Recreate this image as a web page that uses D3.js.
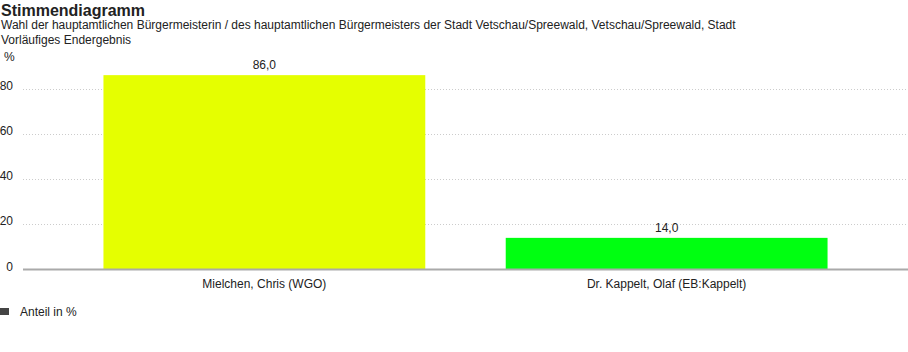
<!DOCTYPE html>
<html lang="de">
<head>
    <meta charset="UTF-8">
    <title>Stimmendiagramm</title>
    <script src="https://d3js.org/d3.v7.min.js"></script>
    <style>
        body { margin: 0; background: #fff; }
        svg text { font-family: "Liberation Sans", Arial, sans-serif; fill: #222; }
        .title { font-size: 16px; font-weight: bold; }
        .sub { font-size: 12px; }
        .tick-label { font-size: 12px; }
        .grid line { stroke: #ccc; stroke-dasharray: 1,2; }
    </style>
</head>
<body>
    <svg width="908" height="352"></svg>
    <script>
        const candidates = ["Mielchen, Chris (WGO)", "Dr. Kappelt, Olaf (EB:Kappelt)"];
        const shares = [86.0, 14.0];
        const barColors = ["#e5ff00", "#00ff11"];
        const yTicks = [0, 20, 40, 60, 80];

        const width = 908, height = 352;
        const svg = d3.select("svg");

        const x = d3.scaleBand()
            .domain(candidates)
            .range([23, 908])
            .paddingInner(0.2)
            .paddingOuter(0.2);

        const y = d3.scaleLinear()
            .domain([0, 100])
            .range([269.5, 43.5]);

        // Title block
        svg.append("text").attr("class", "title").attr("x", 1).attr("y", 16).text("Stimmendiagramm");
        svg.append("text").attr("class", "sub").attr("x", 1).attr("y", 29)
            .text("Wahl der hauptamtlichen Bürgermeisterin / des hauptamtlichen Bürgermeisters der Stadt Vetschau/Spreewald, Vetschau/Spreewald, Stadt");
        svg.append("text").attr("class", "sub").attr("x", 1).attr("y", 44).text("Vorläufiges Endergebnis");
        svg.append("text").attr("class", "tick-label").attr("x", 4).attr("y", 61).text("%");

        // Gridlines
        svg.append("g").attr("class", "grid")
            .selectAll("line")
            .data(yTicks.filter(d => d > 0))
            .enter().append("line")
            .attr("x1", 23).attr("x2", 908)
            .attr("y1", d => Math.round(y(d)) + 0.5)
            .attr("y2", d => Math.round(y(d)) + 0.5);

        // Y tick labels
        svg.append("g")
            .selectAll("text")
            .data(yTicks)
            .enter().append("text")
            .attr("class", "tick-label")
            .attr("x", 13)
            .attr("y", d => y(d) + 1)
            .attr("text-anchor", "end")
            .text(d => d);

        // Bars
        svg.append("g")
            .selectAll("rect")
            .data(candidates)
            .enter().append("rect")
            .attr("x", d => x(d))
            .attr("y", (d, i) => y(shares[i]))
            .attr("width", x.bandwidth())
            .attr("height", (d, i) => y(0) - y(shares[i]))
            .attr("fill", (d, i) => barColors[i]);

        // Value labels
        svg.append("g")
            .selectAll("text")
            .data(candidates)
            .enter().append("text")
            .attr("class", "tick-label")
            .attr("x", d => x(d) + x.bandwidth() / 2)
            .attr("y", (d, i) => y(shares[i]) - 6)
            .attr("text-anchor", "middle")
            .text((d, i) => shares[i].toFixed(1).replace(".", ","));

        // Baseline
        svg.append("line")
            .attr("x1", 23).attr("x2", 908)
            .attr("y1", y(0)).attr("y2", y(0))
            .attr("stroke", "#aaa").attr("stroke-width", 2);

        // Category labels
        svg.append("g")
            .selectAll("text")
            .data(candidates)
            .enter().append("text")
            .attr("class", "tick-label")
            .attr("x", d => x(d) + x.bandwidth() / 2)
            .attr("y", 288)
            .attr("text-anchor", "middle")
            .text(d => d);

        // Legend
        svg.append("rect").attr("x", 0).attr("y", 308).attr("width", 9).attr("height", 7).attr("fill", "#444");
        svg.append("text").attr("class", "tick-label").attr("x", 20).attr("y", 316).text("Anteil in %");
    </script>
</body>
</html>
